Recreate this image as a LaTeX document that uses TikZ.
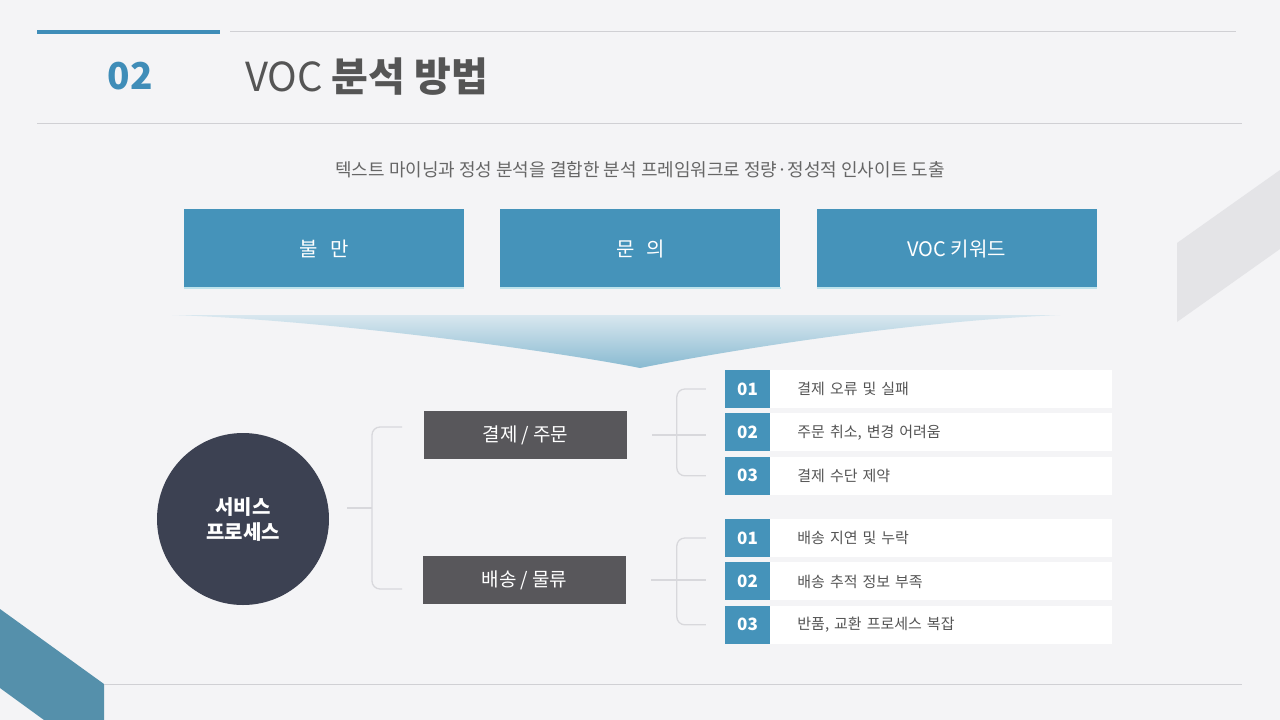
\documentclass[tikz,border=0pt]{standalone}
\usepackage{fontspec}
\setmainfont{Noto Sans CJK KR}
\usepackage{tikz}
\usetikzlibrary{positioning}
\definecolor{bgcol}{HTML}{F4F4F6}
\definecolor{vocblue}{HTML}{4593BA}
\definecolor{titleblue}{HTML}{3F8DB8}
\definecolor{darkbox}{HTML}{58575B}
\definecolor{navy}{HTML}{3C4152}
\definecolor{rulegrey}{HTML}{D0D0D4}
\definecolor{bracketgrey}{HTML}{D8D8DC}
\definecolor{txtgrey}{HTML}{555555}
\definecolor{decoblue}{HTML}{5590AB}
\definecolor{decogrey}{HTML}{E4E4E7}
\definecolor{funneltop}{HTML}{D8E7EF}
\definecolor{funnelbot}{HTML}{89BAD1}
\definecolor{edgecyan}{HTML}{BFE3EC}
\tikzset{
  topbox/.style={rectangle, fill=vocblue, minimum width=280pt, minimum height=80pt, inner sep=0pt, text=white, font=\fontsize{20}{24}\selectfont},
  catbox/.style={rectangle, fill=darkbox, minimum width=203pt, minimum height=48pt, inner sep=0pt, text=white, font=\fontsize{19}{23}\selectfont},
  numbox/.style={rectangle, fill=vocblue, minimum width=45pt, minimum height=38pt, inner sep=0pt, text=white, font=\bfseries\fontsize{17}{20}\selectfont},
  itembox/.style={rectangle, fill=white, minimum height=38pt, text width=288pt, inner xsep=27pt, inner ysep=0pt, align=left, text=txtgrey, font=\fontsize{15}{18}\selectfont},
  hub/.style={circle, fill=navy, minimum size=172pt, inner sep=0pt, align=center, text=white, font=\bfseries\fontsize{20}{25}\selectfont},
  bracket/.style={draw=bracketgrey, line width=1.3pt, rounded corners=8pt},
  boxedge/.style={draw=edgecyan, line width=2pt},
}

\begin{document}
\begin{tikzpicture}[x=1pt, y=-1pt]
  \useasboundingbox (0,0) rectangle (1280,720);
  \fill[bgcol] (0,0) rectangle (1280,720);

  % Decorations
  \fill[decoblue] (0,609) -- (104,684) -- (104,720) -- (44,720) -- (0,688) -- cycle;
  \fill[decogrey] (1177,243) -- (1280,170) -- (1280,249) -- (1177,322) -- cycle;

  % Header
  \draw[titleblue, line width=4pt] (37,32) -- (220,32);
  \draw[rulegrey, line width=1pt] (230,31) -- (1236,31);
  \draw[rulegrey, line width=1pt] (37,123) -- (1242,123);
  \draw[rulegrey, line width=1pt] (104,684) -- (1242,684);
  \node[text=titleblue, font=\bfseries\fontsize{37}{40}\selectfont] (secnum) at (130,76) {02};
  \node[anchor=west, inner sep=0pt, text=txtgrey, font=\fontsize{40}{44}\selectfont] (title) at (245,77) {VOC \textbf{분석 방법}};
  \node[text=txtgrey!90, font=\fontsize{18}{21}\selectfont] (subtitle) at (640,170)
    {텍스트 마이닝과 정성 분석을 결합한 분석 프레임워크로 정량·정성적 인사이트 도출};

  % Sources
  \node[topbox] (complaint) at (324,249) {불\hspace{0.6em}만};
  \node[topbox, right=36pt of complaint] (inquiry) {문\hspace{0.6em}의};
  \node[topbox, right=36pt of inquiry] (keyword) {VOC 키워드};
  \draw[boxedge] ([yshift=1pt]complaint.south west) -- ([yshift=1pt]complaint.south east);
  \draw[boxedge] ([yshift=1pt]inquiry.south west) -- ([yshift=1pt]inquiry.south east);
  \draw[boxedge] ([yshift=1pt]keyword.south west) -- ([yshift=1pt]keyword.south east);

  % Funnel
  \shade[top color=funneltop, bottom color=funnelbot]
    (172,315) -- (1060,315) .. controls (900,322) and (720,352) .. (640,368)
    .. controls (560,352) and (330,320) .. cycle;

  % Hub and categories
  \node[hub] (service) at (243,519) {서비스\\프로세스};
  \node[catbox] (pay) at (525.5,435) {결제 / 주문};
  \node[catbox] (ship) at (524.5,580) {배송 / 물류};

  \coordinate (lbtop) at (402,427);
  \coordinate (lbbot) at (402,589);
  \coordinate (lbmid) at (347,508);
  \draw[bracket] (lbtop) -- ++(-30,0) -- ++(0,162) -- (lbbot);
  \draw[bracket] (lbmid) -- ++(25,0);

  % Payment issues
  \node[numbox] (p1) at (747.5,389) {01};
  \node[numbox, below=5pt of p1] (p2) {02};
  \node[numbox, below=5pt of p2] (p3) {03};
  \node[itembox, right=0pt of p1] (pt1) {결제 오류 및 실패};
  \node[itembox, right=0pt of p2] (pt2) {주문 취소, 변경 어려움};
  \node[itembox, right=0pt of p3] (pt3) {결제 수단 제약};

  % Delivery issues
  \node[numbox] (s1) at (747.5,538) {01};
  \node[numbox, below=5pt of s1] (s2) {02};
  \node[numbox, below=5pt of s2] (s3) {03};
  \node[itembox, right=0pt of s1] (st1) {배송 지연 및 누락};
  \node[itembox, right=0pt of s2] (st2) {배송 추적 정보 부족};
  \node[itembox, right=0pt of s3] (st3) {반품, 교환 프로세스 복잡};

  % Brackets
  \draw[bracket] ([xshift=-19pt]p1.west) -- ([xshift=-48pt]p1.west) -- ([xshift=-48pt]p3.west) -- ([xshift=-19pt]p3.west);
  \draw[bracket, shorten <=25pt, shorten >=19pt] (pay.east) -- (pay.east -| p2.west);
  \draw[bracket] ([xshift=-19pt]s1.west) -- ([xshift=-48pt]s1.west) -- ([xshift=-48pt]s3.west) -- ([xshift=-19pt]s3.west);
  \draw[bracket, shorten <=25pt, shorten >=19pt] (ship.east) -- (ship.east -| s2.west);

\end{tikzpicture}
\end{document}
